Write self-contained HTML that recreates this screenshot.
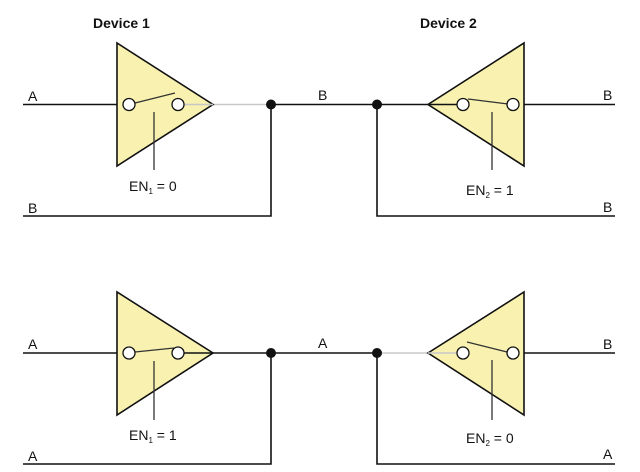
<!DOCTYPE html>
<html><head><meta charset="utf-8"><style>
html,body{margin:0;padding:0;background:#fff;}
svg{display:block;}
text{font-family:"Liberation Sans",sans-serif;font-size:14px;fill:#111;}
.b{font-weight:bold;}
.s{font-size:8px;}
</style></head><body>
<svg width="640" height="472" viewBox="0 0 640 472" xmlns="http://www.w3.org/2000/svg">
<g stroke-width="1.6" fill="none">
<!-- TOP -->
<line x1="23" y1="104.5" x2="129" y2="104.5" stroke="#111"/>
<line x1="178" y1="104.5" x2="271" y2="104.5" stroke="#c8c8c8"/>
<line x1="271" y1="104.5" x2="428" y2="104.5" stroke="#111"/>
<polyline points="23,216 271,216 271,104.5" stroke="#111"/>
<polyline points="377,104.5 377,216 615,216" stroke="#111"/>
<line x1="513" y1="104.5" x2="615" y2="104.5" stroke="#111"/>
<!-- BOTTOM -->
<line x1="23" y1="353" x2="377" y2="353" stroke="#111"/>
<line x1="377" y1="353" x2="463" y2="353" stroke="#c8c8c8"/>
<polyline points="23,464 271,464 271,353" stroke="#111"/>
<polyline points="377,353 377,464 615,464" stroke="#111"/>
<line x1="513" y1="353" x2="615" y2="353" stroke="#111"/>
</g>
<!-- triangles -->
<g fill="#f8f1b0" stroke="#111" stroke-width="1.6" stroke-linejoin="miter">
<polygon points="117,43 117,166 213,104.5"/>
<polygon points="524,43 524,166 428,104.5"/>
<polygon points="117,292 117,415 213,353"/>
<polygon points="524,292 524,415 428,353"/>
</g>
<g stroke-width="1.6">
<line x1="178" y1="104.5" x2="213" y2="104.5" stroke="#c8c8c8"/>
<line x1="428" y1="104.5" x2="463" y2="104.5" stroke="#111"/>
<line x1="178" y1="353" x2="213" y2="353" stroke="#111"/>
<line x1="428" y1="353" x2="463" y2="353" stroke="#c8c8c8"/>
</g>
<!-- switches and EN lines -->
<g stroke="#333" stroke-width="1.3">
<line x1="135" y1="103" x2="175" y2="93"/>
<line x1="154" y1="112" x2="154" y2="170"/>
<line x1="468" y1="99" x2="508" y2="104"/>
<line x1="492" y1="112" x2="492" y2="170"/>
<line x1="135" y1="352" x2="174" y2="348"/>
<line x1="154" y1="361" x2="154" y2="420"/>
<line x1="467" y1="342" x2="507" y2="352"/>
<line x1="492" y1="360" x2="492" y2="420"/>
</g>
<!-- circles -->
<g fill="#fff" stroke="#111" stroke-width="1.3">
<circle cx="129" cy="104.5" r="6"/><circle cx="178" cy="104.5" r="6"/>
<circle cx="463" cy="104.5" r="6"/><circle cx="513" cy="104.5" r="6"/>
<circle cx="129" cy="353" r="6"/><circle cx="178" cy="353" r="6"/>
<circle cx="463" cy="353" r="6"/><circle cx="513" cy="353" r="6"/>
</g>
<g fill="#111">
<circle cx="271" cy="104.5" r="5"/><circle cx="377" cy="104.5" r="5"/>
<circle cx="271" cy="353" r="5"/><circle cx="377" cy="353" r="5"/>
</g>
<!-- labels -->
<text x="93" y="28" class="b">Device 1</text>
<text x="420" y="28" class="b">Device 2</text>
<text x="28" y="101">A</text>
<text x="28" y="213">B</text>
<text x="318" y="100">B</text>
<text x="603" y="100">B</text>
<text x="603" y="212">B</text>
<text x="129" y="191">EN<tspan class="s" dy="3">1</tspan><tspan dy="-3"> = 0</tspan></text>
<text x="466" y="195">EN<tspan class="s" dy="3">2</tspan><tspan dy="-3"> = 1</tspan></text>
<text x="28" y="349">A</text>
<text x="28" y="461">A</text>
<text x="318" y="348">A</text>
<text x="603" y="349">B</text>
<text x="603" y="459">A</text>
<text x="129" y="440">EN<tspan class="s" dy="3">1</tspan><tspan dy="-3"> = 1</tspan></text>
<text x="466" y="443">EN<tspan class="s" dy="3">2</tspan><tspan dy="-3"> = 0</tspan></text>
</svg>
</body></html>
